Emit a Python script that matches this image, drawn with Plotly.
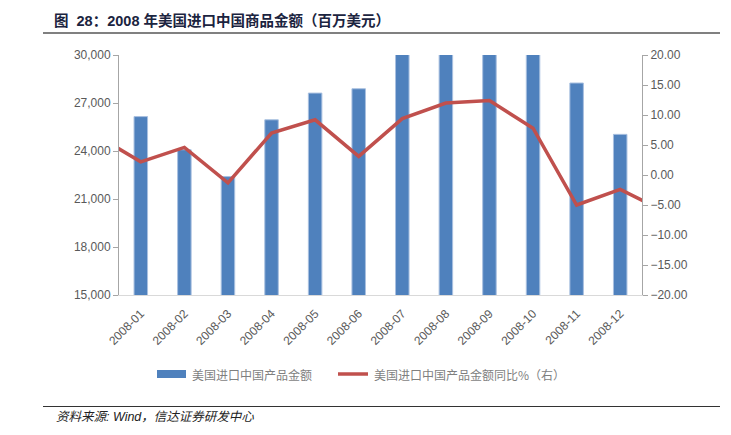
import plotly.graph_objects as go

# ---- data ----
months = ["2008-01", "2008-02", "2008-03", "2008-04", "2008-05", "2008-06",
          "2008-07", "2008-08", "2008-09", "2008-10", "2008-11", "2008-12"]
# neighbouring months so the YoY line runs to the plot edges, as in the reference
line_months = ["2007-12"] + months + ["2009-01"]

import_value = [26150, 24080, 22400, 25950, 27620, 27890,
                30900, 31600, 31300, 30800, 28250, 25040]
import_yoy = [6.5, 2.2, 4.6, -1.3, 7.0, 9.2, 3.1,
              9.4, 12.0, 12.4, 7.8, -5.0, -2.4, -6.0]

bar_name = "美国进口中国产品金额"
line_name = "美国进口中国产品金额同比%（右）"
title_text = "图  28：2008 年美国进口中国商品金额（百万美元）"
source_text = "资料来源: Wind，信达证券研发中心"

left_ticks = [15000, 18000, 21000, 24000, 27000, 30000]
right_ticks = [-20, -15, -10, -5, 0, 5, 10, 15, 20]

BLUE = "#4f81bd"
RED = "#c0504d"
GREY_TXT = "#595959"
CJK = "Noto Sans CJK SC"
LAT = "Liberation Sans, Arial, Noto Sans CJK SC"

fig = go.Figure()
fig.add_trace(go.Bar(
    x=months, y=import_value, name=bar_name,
    marker=dict(color=BLUE, line=dict(color="#a9c0e0", width=1)),
    yaxis="y", showlegend=False,
))
fig.add_trace(go.Scatter(
    x=line_months, y=import_yoy, name=line_name, mode="lines",
    line=dict(color=RED, width=3.5), yaxis="y2", showlegend=False,
))

fig.update_layout(
    width=731, height=435,
    margin=dict(l=119, r=89, t=55, b=140),
    paper_bgcolor="white", plot_bgcolor="white",
    bargap=0.69,
    xaxis=dict(
        type="category", categoryorder="array", categoryarray=line_months,
        range=[0.5, 12.5], showgrid=False, showline=True, linecolor="#d9d9d9",
        linewidth=1, ticks="", tickangle=-45, ticklabelstandoff=6,
        tickfont=dict(family=LAT, size=12, color=GREY_TXT),
    ),
    yaxis=dict(
        range=[15000, 30000], tickvals=left_ticks, tickformat=",",
        showgrid=False, zeroline=False, showline=True, linecolor="#a6a6a6",
        ticks="outside", ticklen=5, tickcolor="#a6a6a6",
        tickfont=dict(family=LAT, size=12, color=GREY_TXT),
    ),
    yaxis2=dict(
        range=[-20, 20], tickvals=right_ticks, tickformat=".2f",
        overlaying="y", side="right", showgrid=False, zeroline=False,
        showline=True, linecolor="#a6a6a6", ticks="outside", ticklen=5,
        tickcolor="#a6a6a6", tickfont=dict(family=LAT, size=12, color=GREY_TXT),
    ),
)

def px_x(px):
    return (px - 119) / 523.0

def px_y(py):
    return (295 - py) / 240.0

shapes = [
    # title underline
    dict(type="line", xref="paper", yref="paper", x0=px_x(43), x1=px_x(720),
         y0=px_y(33), y1=px_y(33), line=dict(color="#808080", width=2)),
    # footer line
    dict(type="line", xref="paper", yref="paper", x0=px_x(43), x1=px_x(720),
         y0=px_y(406.5), y1=px_y(406.5), line=dict(color="#333333", width=1)),
    # legend swatches
    dict(type="rect", xref="paper", yref="paper", x0=px_x(157), x1=px_x(186),
         y0=px_y(370), y1=px_y(378), fillcolor=BLUE, line=dict(width=0)),
    dict(type="line", xref="paper", yref="paper", x0=px_x(338), x1=px_x(368),
         y0=px_y(374), y1=px_y(374), line=dict(color=RED, width=3.5)),
]

annotations = [
    dict(text="<b>" + title_text + "</b>", xref="paper", yref="paper",
         x=px_x(52), y=px_y(20), xanchor="left", yanchor="middle", showarrow=False,
         font=dict(family=LAT, size=14.5, color="#1b2440")),
    dict(text=bar_name, xref="paper", yref="paper", x=px_x(190), y=px_y(374),
         xanchor="left", yanchor="middle", showarrow=False,
         font=dict(family=CJK, size=12, color="#7f7f7f")),
    dict(text=line_name, xref="paper", yref="paper", x=px_x(372), y=px_y(374),
         xanchor="left", yanchor="middle", showarrow=False,
         font=dict(family=CJK, size=12, color="#7f7f7f")),
    dict(text="<i>" + source_text + "</i>", xref="paper", yref="paper",
         x=px_x(54), y=px_y(416.5), xanchor="left", yanchor="middle", showarrow=False,
         font=dict(family=LAT, size=12.5, color="#222222")),
]

fig.update_layout(shapes=shapes, annotations=annotations)
fig.write_html("out.html", config={"displayModeBar": False},
               post_script="document.body.style.margin='0';document.body.style.padding='0';")
